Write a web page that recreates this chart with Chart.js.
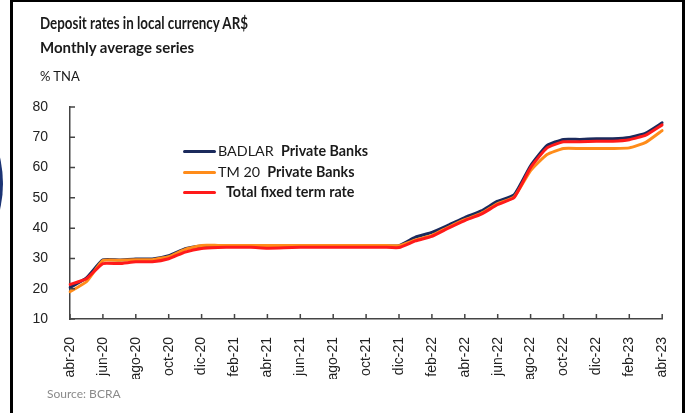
<!DOCTYPE html>
<html>
<head>
<meta charset="utf-8">
<title>Deposit rates in local currency AR$</title>
<script src="https://cdn.jsdelivr.net/npm/chart.js@4"></script>
<style>
  html, body { margin: 0; padding: 0; background: #fff; }
  #wrap { position: relative; width: 689px; height: 413px; overflow: hidden; font-family: Lato, "Open Sans", sans-serif; color: #1a1a1a; }
  #chart { position: absolute; left: 0; top: 0; }
  .frame-l { position: absolute; left: 10px; top: 0; width: 2.5px; height: 413px; background: #000; }
  .frame-r { position: absolute; left: 682px; top: 0; width: 2.5px; height: 413px; background: #000; }
  .frame-t { position: absolute; left: 10px; top: 0; width: 675px; height: 1.5px; background: #000; }
  .dot { position: absolute; left: -226px; top: 69px; width: 229px; height: 229px; border-radius: 50%; background: #1c3474; }
  .txt { position: absolute; white-space: nowrap; transform-origin: left top; }
  #title { left: 40px; top: 12px; font-size: 17px; font-weight: 700; }
  #subtitle { left: 40px; top: 38px; font-size: 15px; font-weight: 700; }
  #unit { left: 40px; top: 68px; font-size: 13px; }
  #source { left: 47px; top: 386px; font-size: 12px; color: #8a8a8a; }
  .leg { position: absolute; left: 183px; height: 20px; font-size: 14.3px; white-space: nowrap; }
  .leg i { position: absolute; left: 0; top: 9px; width: 33px; height: 3px; border-radius: 2px; }
  .leg span { position: absolute; top: 1px; }
  .leg b { font-weight: 700; }
</style>
</head>
<body>
<div id="wrap">
  <canvas id="chart" width="689" height="413"></canvas>
  <div class="dot"></div>
  <div class="frame-t"></div>
  <div class="frame-l"></div>
  <div class="frame-r"></div>
  <div class="txt" id="title">Deposit rates in local currency AR$</div>
  <div class="txt" id="subtitle">Monthly average series</div>
  <div class="txt" id="unit">% TNA</div>
  <div class="txt" id="source">Source: BCRA</div>
  <div class="leg" style="top:141px"><i style="background:#1b2a5c"></i><span style="left:35px">BADLAR &nbsp;<b>Private Banks</b></span></div>
  <div class="leg" style="top:162px"><i style="background:#ff8c1a"></i><span style="left:35px">TM 20 &nbsp;<b>Private Banks</b></span></div>
  <div class="leg" style="top:182px"><i style="background:#ff1a1a"></i><span style="left:43px"><b>Total fixed term rate</b></span></div>
</div>
<script>
// monthly labels, abr-20 .. abr-23
var months = [
  "abr-20", "may-20", "jun-20", "jul-20", "ago-20", "sep-20", "oct-20", "nov-20", "dic-20",
  "ene-21", "feb-21", "mar-21", "abr-21", "may-21", "jun-21", "jul-21", "ago-21", "sep-21", "oct-21", "nov-21", "dic-21",
  "ene-22", "feb-22", "mar-22", "abr-22", "may-22", "jun-22", "jul-22", "ago-22", "sep-22", "oct-22", "nov-22", "dic-22",
  "ene-23", "feb-23", "mar-23", "abr-23"
];

// % TNA, monthly averages
var badlar = [
  20.4, 23.6, 29.5, 29.5, 29.8, 29.8, 30.9, 33.2, 34.1,
  34.2, 34.2, 34.2, 34.2, 34.2, 34.2, 34.2, 34.2, 34.2, 34.2, 34.2, 34.2,
  37.0, 38.6, 41.0, 43.5, 45.7, 48.9, 51.0, 60.6, 67.3, 69.3, 69.3, 69.5,
  69.5, 69.9, 71.4, 74.8
];
var tm20 = [
  19.0, 22.3, 29.3, 29.4, 29.6, 29.6, 30.6, 33.0, 34.3,
  34.3, 34.3, 34.3, 34.3, 34.3, 34.3, 34.3, 34.3, 34.3, 34.3, 34.3, 34.2,
  36.1, 37.6, 40.3, 42.8, 44.9, 48.1, 50.3, 59.0, 64.3, 66.3, 66.3, 66.3,
  66.3, 66.5, 68.3, 72.2
];
var totalFixed = [
  21.4, 23.3, 28.3, 28.3, 28.9, 28.9, 29.9, 32.1, 33.3,
  33.6, 33.7, 33.7, 33.4, 33.5, 33.7, 33.7, 33.7, 33.7, 33.7, 33.7, 33.6,
  35.8, 37.3, 40.0, 42.5, 44.6, 47.8, 50.1, 60.0, 66.5, 68.5, 68.5, 68.7,
  68.7, 69.2, 70.7, 74.1
];

var yTicks = [10, 20, 30, 40, 50, 60, 70, 80];

// the heading is set in a condensed bold: squeeze it to 208px wide
var title = document.getElementById("title");
title.style.transform = "scaleX(" + (208 / title.getBoundingClientRect().width) + ")";

// short tick marks pointing into the plot
var innerTicks = {
  id: "innerTicks",
  afterDraw: function (chart) {
    var c = chart.ctx, x = chart.scales.x, y = chart.scales.y;
    c.save();
    c.strokeStyle = "#444";
    c.lineWidth = 1.5;
    c.beginPath();
    for (var i = 0; i < months.length; i += 2) {
      var px = x.getPixelForValue(i);
      c.moveTo(px, y.bottom);
      c.lineTo(px, y.bottom - 5);
    }
    yTicks.forEach(function (v) {
      var py = y.getPixelForValue(v);
      c.moveTo(x.left, py);
      c.lineTo(x.left + 5, py);
    });
    c.stroke();
    c.restore();
  }
};

var tickFont = { family: "'Liberation Sans', Arial, sans-serif", size: 14 };

new Chart(document.getElementById("chart"), {
  type: "line",
  data: {
    labels: months,
    datasets: [
      { label: "BADLAR Private Banks", data: badlar, borderColor: "#1b2a5c", order: 2 },
      { label: "TM 20 Private Banks", data: tm20, borderColor: "#ff8c1a", order: 1 },
      { label: "Total fixed term rate", data: totalFixed, borderColor: "#ff1a1a", order: 0 }
    ]
  },
  options: {
    responsive: false,
    animation: false,
    events: [],
    layout: { padding: { left: 30, right: 26, top: 107, bottom: 34 } },
    elements: {
      line: { borderWidth: 3, tension: 0.15, borderCapStyle: "round", borderJoinStyle: "round" },
      point: { radius: 0 }
    },
    scales: {
      x: {
        offset: false,
        grid: { display: false },
        border: { color: "#444", width: 1.5 },
        ticks: {
          autoSkip: false,
          minRotation: 90,
          maxRotation: 90,
          padding: 10,
          color: "#222",
          font: tickFont,
          callback: function (v, i) { return i % 2 === 0 ? months[i] : ""; }
        },
        afterFit: function (s) { s.height = 60; }
      },
      y: {
        min: 10,
        max: 80,
        grid: { display: false },
        border: { color: "#444", width: 1.5 },
        ticks: { stepSize: 10, padding: 14, color: "#222", font: tickFont },
        afterFit: function (s) { s.width = 40; }
      }
    },
    plugins: {
      legend: { display: false },
      tooltip: { enabled: false }
    }
  },
  plugins: [innerTicks]
});
</script>
</body>
</html>
